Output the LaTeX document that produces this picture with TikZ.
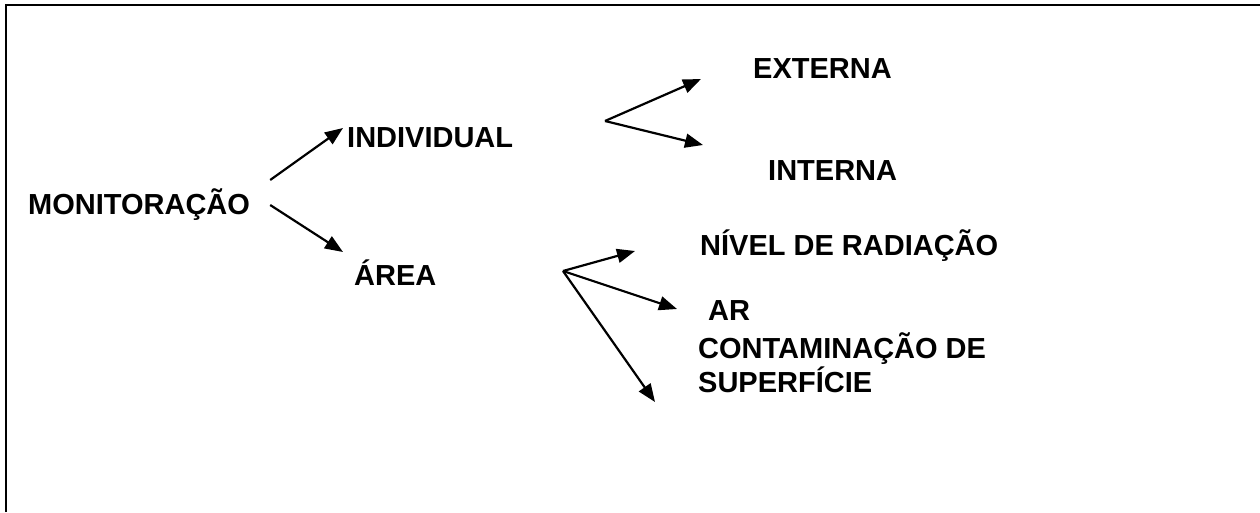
\documentclass[tikz,border=0pt]{standalone}
\usepackage{fontspec}
\setmainfont{Liberation Sans}
\usetikzlibrary{arrows.meta}
\begin{document}
\begin{tikzpicture}[x=1pt,y=-1pt,
  lbl/.style={anchor=base west,inner sep=0pt,font=\fontsize{29}{34}\selectfont\bfseries},
  arr/.style={line width=2.2pt,-{Triangle[length=18pt,width=14pt]}},
  frame/.style={line width=2.6pt,line join=miter}]
\useasboundingbox (0,0) rectangle (1260,512);
\draw[frame] (6,512) -- (6,5) -- (1260,5);
\node[lbl] (mon) at (28,214) {MONITORAÇÃO};
\node[lbl] (ind) at (347,147) {INDIVIDUAL};
\node[lbl] (area) at (354,285) {ÁREA};
\node[lbl] (ext) at (753,78) {EXTERNA};
\node[lbl] (int) at (768,180) {INTERNA};
\node[lbl] (niv) at (700,255) {NÍVEL DE RADIAÇÃO};
\node[lbl] (ar) at (708,320) {AR};
\node[lbl] (cont) at (698,358) {CONTAMINAÇÃO DE};
\node[lbl] (sup) at (698,392) {SUPERFÍCIE};
\coordinate (f1) at (605,121);
\coordinate (f2) at (563,271);
\draw[arr] ([shift={(20,-34)}]mon.base east) -- ([shift={(-4,-19)}]ind.base west);
\draw[arr] ([shift={(20,-9)}]mon.base east) -- ([shift={(-11,-33)}]area.base west);
\draw[arr] (f1) -- ([shift={(-52,1)}]ext.base west);
\draw[arr] (f1) -- ([shift={(-65,-35)}]int.base west);
\draw[arr] (f2) -- ([shift={(-65,-4)}]niv.base west);
\draw[arr] (f2) -- ([shift={(-31,-11)}]ar.base west);
\draw[arr] (f2) -- ([shift={(-43,44)}]cont.base west);
\end{tikzpicture}
\end{document}
